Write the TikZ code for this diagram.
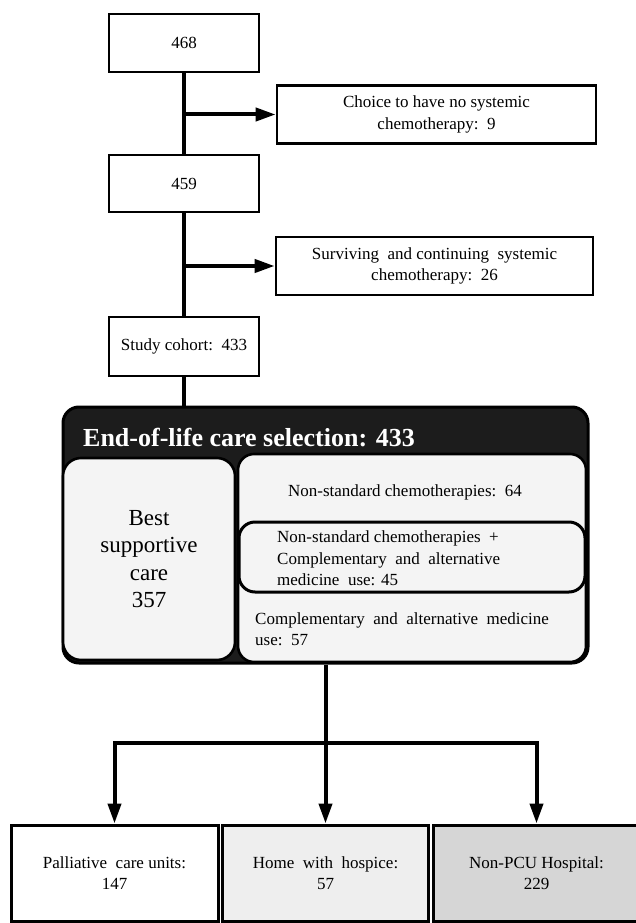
\documentclass[tikz,border=0pt]{standalone}
\usepackage{fontspec}
\setmainfont{Liberation Serif}
\usetikzlibrary{arrows.meta}
\definecolor{stip}{HTML}{F4F4F4}
\definecolor{homefill}{HTML}{EEEEEE}
\definecolor{npcufill}{HTML}{D6D6D6}
\definecolor{darkfill}{HTML}{1C1C1C}
\begin{document}
\begin{tikzpicture}[x=1pt,y=-1pt,
  box/.style={draw, line width=2.7pt, fill=white, inner sep=0pt, align=center,
              font=\fontsize{17}{21.5}\selectfont},
  conn/.style={line width=4pt},
  arr/.style={line width=4pt, -{Triangle[length=20pt,width=13pt]}},
  txt/.style={inner sep=0pt, font=\fontsize{17}{21.5}\selectfont},
  rbox/.style={draw, line width=2.6pt, fill=stip, inner sep=0pt},
]
\useasboundingbox (0,0) rectangle (636,923);

% top chain
\node[box, minimum width=150pt, minimum height=58pt] (n468) at (184,43) {468};
\node[box, minimum width=319pt, minimum height=58pt] (choice) at (436.5,114.5) {Choice to have no systemic\\chemotherapy:\ \ 9};
\node[box, minimum width=150pt, minimum height=57pt] (n459) at (184,183.5) {459};
\node[box, minimum width=317pt, minimum height=58pt] (surv) at (434.5,266) {Surviving\ \ and continuing\ \ systemic\\chemotherapy:\ \ 26};
\node[box, minimum width=150pt, minimum height=59pt] (study) at (184,346.5) {Study cohort:\ \ 433};

% end-of-life box
\node[draw, line width=3pt, fill=darkfill, rounded corners=16pt, minimum width=525pt, minimum height=256pt, inner sep=0pt] (big) at (325.5,535) {};
\node[rbox, rounded corners=18pt, minimum width=172pt, minimum height=202pt] (bsc) at (149,559) {};
\node[rbox, rounded corners=16pt, minimum width=348pt, minimum height=208pt] (right) at (412,558) {};
\node[rbox, line width=3pt, rounded corners=16pt, minimum width=346pt, minimum height=70pt] (cam) at (412,557) {};

\node[inner sep=0pt, text=white, font=\bfseries\fontsize{26}{30}\selectfont, anchor=west] (title) at (83,438) {End-of-life\ care selection: 433};
\node[inner sep=0pt, align=center, font=\fontsize{23}{27.5}\selectfont] (bsctext) at (bsc.center) {Best\\supportive\\care\\357};
\node[txt] (nsc) at (405,492) {Non-standard chemotherapies:\ \ 64};
\node[txt, align=left, anchor=west] (camtext) at (277,558.5) {Non-standard chemotherapies\ \ +\\Complementary\ \ and\ \ alternative\\medicine\ \ use: 45};
\node[txt, align=left, anchor=west] (cmtext) at (255,629) {Complementary\ \ and\ \ alternative\ \ medicine\\use:\ \ 57};

% bottom boxes
\node[box, line width=3pt, minimum width=207pt, minimum height=96pt] (pcu) at (114.5,873) {Palliative\ \ care units:\\147};
\node[box, line width=3pt, fill=homefill, minimum width=206pt, minimum height=96pt] (home) at (325.5,873) {Home\ \ with\ \ hospice:\\57};
\node[box, line width=3pt, fill=npcufill, minimum width=207pt, minimum height=96pt] (npcu) at (536.5,873) {Non-PCU Hospital:\\229};

% connectors
\draw[conn] (n468) -- (n459);
\draw[conn] (n459) -- (study);
\draw[conn] (study.south) -- (study.south |- big.north);
\coordinate (j1) at (n468.south |- choice.west);
\coordinate (j2) at (n459.south |- surv.west);
\draw[arr] (j1) -- (choice.west);
\draw[arr] (j2) -- (surv.west);
\coordinate (split) at (big.south |- 0,743);
\draw[conn] (big.south) -- (split);
\draw[arr] (split) -- (home.north);
\draw[arr] (split) -| (pcu.north);
\draw[arr] (split) -| (npcu.north);
\end{tikzpicture}
\end{document}
